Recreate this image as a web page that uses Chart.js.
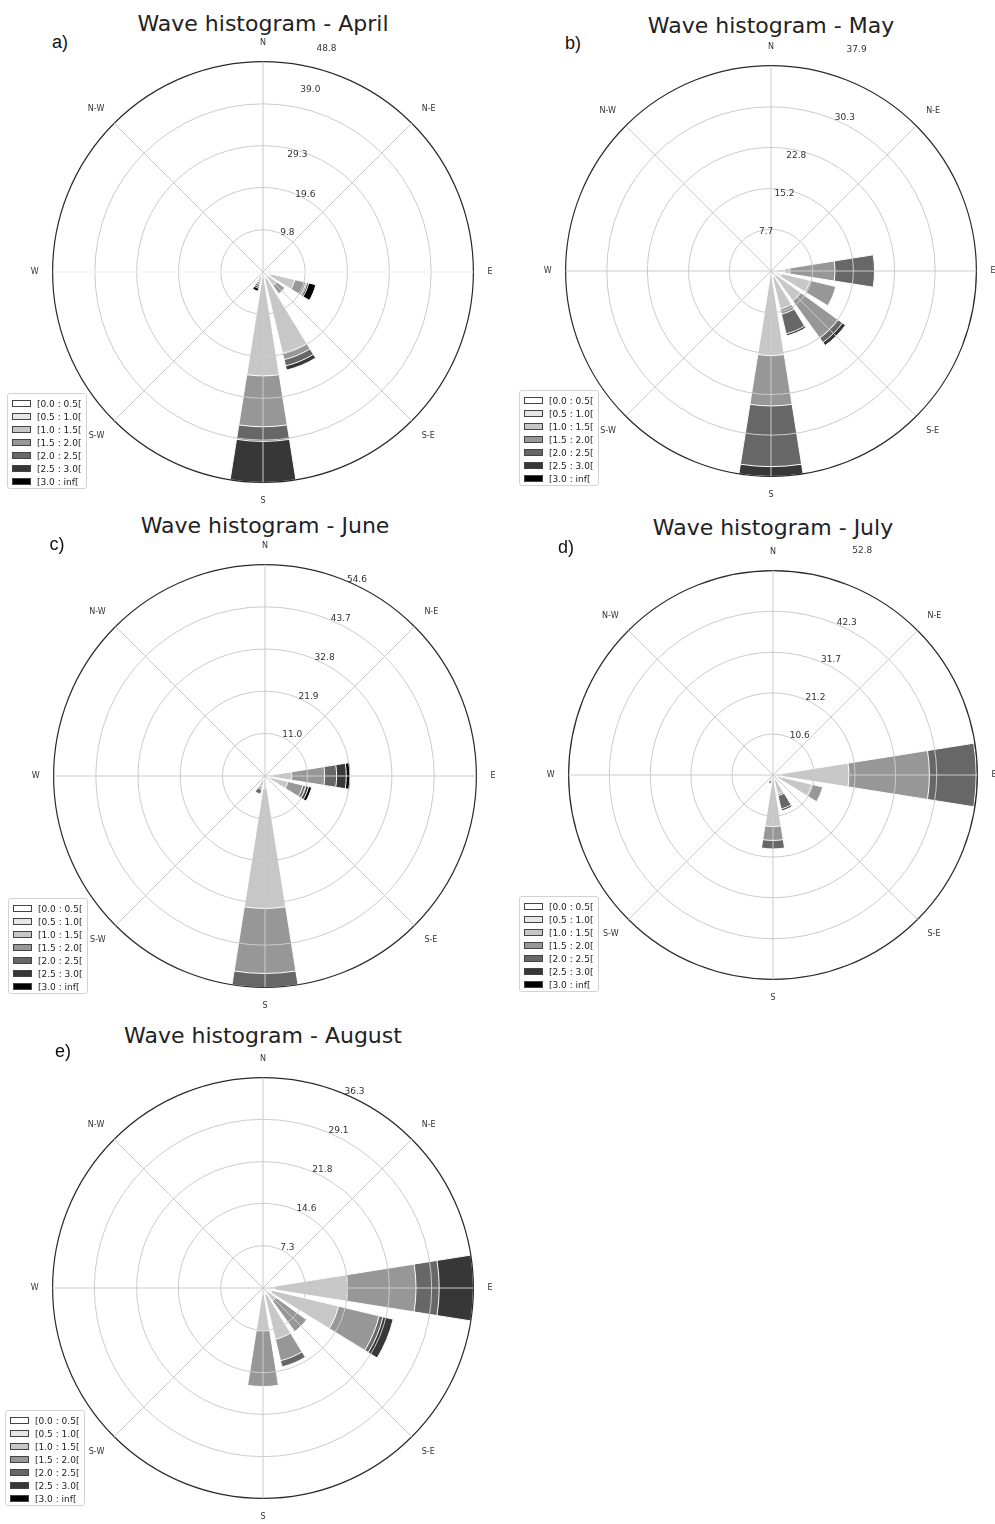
<!DOCTYPE html>
<html>
<head>
<meta charset="utf-8">
<script src="https://cdn.jsdelivr.net/npm/chart.js@4.4.1/dist/chart.umd.min.js"></script>
<style>
  html, body { margin: 0; padding: 0; background: #fff; }
  body { width: 995px; height: 1524px; overflow: hidden; position: relative; font-family: "DejaVu Sans", sans-serif; }
  .title { position: absolute; transform: translate(-50%, -50%); white-space: nowrap; font-size: 22px; color: #222; }
  .tag { position: absolute; transform: translate(-50%, -50%); font-family: "Liberation Sans", Arial, sans-serif; font-size: 18px; color: #111; }
  canvas { position: absolute; }
  .legend { position: absolute; box-sizing: border-box; width: 80px; height: 96px; border: 1px solid #d2d2d2; border-radius: 3px;
            background: rgba(255,255,255,0.92); padding: 3px 0 0 4px; }
  .legend .row { height: 13px; display: flex; align-items: center; font-size: 9px; color: #222; white-space: nowrap; }
  .legend .sw { width: 19px; height: 7px; box-sizing: border-box; border: 1px solid #444; margin-right: 6px; flex: none; }
</style>
</head>
<body>
<script>
// Compass labels drawn around each rose
const directions = ['N', 'N-E', 'E', 'S-E', 'S', 'S-W', 'W', 'N-W'];

// Significant wave height classes (m) and their fills
const hsBins = ['[0.0 : 0.5[', '[0.5 : 1.0[', '[1.0 : 1.5[', '[1.5 : 2.0[', '[2.0 : 2.5[', '[2.5 : 3.0[', '[3.0 : inf['];
const binColors = ['#ffffff', '#e6e6e6', '#c7c7c7', '#979797', '#676767', '#373737', '#000000'];

// Frequency (%) per class (rows) and per 22.5° sector (columns):
// N, NNE, NE, ENE, E, ESE, SE, SSE, S, SSW, SW, WSW, W, WNW, NW, NNW
const april = [
  [0, 0, 0, 0, 0.5, 0.7, 0.3, 0.5, 0.3, 0.3, 0, 0, 0, 0, 0, 0],
  [0, 0, 0, 0, 1.5, 1.2, 0.7, 1.0, 1.2, 0.7, 0, 0, 0, 0, 0, 0],
  [0, 0, 0, 0, 0, 5.7, 2.9, 17.9, 22.6, 1.5, 0, 0, 0, 0, 0, 0],
  [0, 0, 0, 0, 0, 2.6, 2.3, 1.5, 11.8, 0.5, 0, 0, 0, 0, 0, 0],
  [0, 0, 0, 0, 0, 0.3, 0, 1.5, 3.4, 0.5, 0, 0, 0, 0, 0, 0],
  [0, 0, 0, 0, 0, 0.4, 0, 1.0, 9.5, 0.4, 0, 0, 0, 0, 0, 0],
  [0, 0, 0, 0, 0, 1.7, 0, 0, 0, 0.7, 0, 0, 0, 0, 0, 0]
];
const may = [
  [0, 0, 0, 0, 1.0, 0.5, 0.4, 0.4, 0.3, 0, 0, 0, 0, 0, 0, 0],
  [0, 0, 0, 0, 1.5, 1.5, 0.8, 0.8, 0.8, 0, 0, 0, 0, 0, 0, 0],
  [0, 0, 0, 0, 1.0, 5.4, 5.6, 6.0, 14.5, 0, 0, 0, 0, 0, 0, 0],
  [0, 0, 0, 0, 8.3, 4.9, 8.5, 1.0, 9.3, 0, 0, 0, 0, 0, 0, 0],
  [0, 0, 0, 0, 7.3, 0, 1.0, 3.7, 11.2, 0, 0, 0, 0, 0, 0, 0],
  [0, 0, 0, 0, 0, 0, 0.7, 0.4, 1.8, 0, 0, 0, 0, 0, 0, 0],
  [0, 0, 0, 0, 0, 0, 0, 0, 0, 0, 0, 0, 0, 0, 0, 0]
];
const june = [
  [0, 0, 0, 0, 0.5, 0.4, 0, 0, 1.0, 0.3, 0, 0, 0, 0, 0, 0],
  [0, 0, 0, 0, 1.5, 1.0, 0, 0, 2.2, 0.7, 0, 0, 0, 0, 0, 0],
  [0, 0, 0, 0, 4.9, 4.7, 0, 0, 31.0, 2.0, 0, 0, 0, 0, 0, 0],
  [0, 0, 0, 0, 8.5, 4.0, 0, 0, 16.8, 0.6, 0, 0, 0, 0, 0, 0],
  [0, 0, 0, 0, 3.1, 0.7, 0, 0, 3.6, 1.2, 0, 0, 0, 0, 0, 0],
  [0, 0, 0, 0, 2.5, 0.8, 0, 0, 0, 0, 0, 0, 0, 0, 0, 0],
  [0, 0, 0, 0, 1.1, 0.8, 0, 0, 0, 0, 0, 0, 0, 0, 0, 0]
];
const july = [
  [0, 0, 0, 0, 0.8, 0.4, 0, 0.3, 0.3, 0.2, 0, 0, 0, 0, 0, 0],
  [0, 0, 0, 0, 1.5, 1.0, 0, 0.7, 0.7, 0.4, 0, 0, 0, 0, 0, 0],
  [0, 0, 0, 0, 17.3, 8.9, 0, 4.0, 12.3, 0.6, 0, 0, 0, 0, 0, 0],
  [0, 0, 0, 0, 20.8, 2.9, 0, 0.5, 3.6, 0.4, 0, 0, 0, 0, 0, 0],
  [0, 0, 0, 0, 12.1, 0, 0, 3.5, 2.2, 0.7, 0, 0, 0, 0, 0, 0],
  [0, 0, 0, 0, 0.3, 0, 0, 0.5, 0, 0, 0, 0, 0, 0, 0, 0],
  [0, 0, 0, 0, 0, 0, 0, 0, 0, 0, 0, 0, 0, 0, 0, 0]
];
const august = [
  [0, 0, 0, 0, 0.8, 0.6, 0.4, 0.4, 0.4, 0, 0, 0, 0, 0, 0, 0],
  [0, 0, 0, 0, 1.2, 1.0, 0.6, 0.8, 0.8, 0, 0, 0, 0, 0, 0, 0],
  [0, 0, 0, 0, 12.6, 11.8, 1.8, 7.9, 6.2, 0, 0, 0, 0, 0, 0, 0],
  [0, 0, 0, 0, 11.8, 7.2, 6.5, 3.8, 9.6, 0, 0, 0, 0, 0, 0, 0],
  [0, 0, 0, 0, 4.0, 0.7, 0, 1.1, 0, 0, 0, 0, 0, 0, 0, 0],
  [0, 0, 0, 0, 5.9, 1.8, 0, 0, 0, 0, 0, 0, 0, 0, 0, 0],
  [0, 0, 0, 0, 0, 0, 0, 0, 0, 0, 0, 0, 0, 0, 0, 0]
];

// Radial ring labels (%), the last one is the outer circle
const aprilTicks = ['9.8', '19.6', '29.3', '39.0', '48.8'];
const mayTicks = ['7.7', '15.2', '22.8', '30.3', '37.9'];
const juneTicks = ['11.0', '21.9', '32.8', '43.7', '54.6'];
const julyTicks = ['10.6', '21.2', '31.7', '42.3', '52.8'];
const augustTicks = ['7.3', '14.6', '21.8', '29.1', '36.3'];

// Page placement of each rose: centre, scale half-height, title, panel letter, legend box,
// plus nudges (px) for ring labels that sit away from the 22.5° line
const panels = [
  { tag: 'a)', title: 'Wave histogram - April',  rows: april,  ticks: aprilTicks,  cx: 263, cy: 273,  half: 234,
    titleX: 263, titleY: 23, tagX: 60, tagY: 42, legX: 7, legY: 393, faintEW: true,
    nudge: [[0, 1], [-1, 2], [-25, 1], [-28, -25], [-28, -27]] },
  { tag: 'b)', title: 'Wave histogram - May',    rows: may,    ticks: mayTicks,    cx: 771, cy: 272,  half: 229,
    titleX: 771, titleY: 25, tagX: 573, tagY: 43, legX: 519, legY: 390,
    nudge: [[-29, 1], [-29, 0], [-33, 0], [0, 0], [-4, -30]] },
  { tag: 'c)', title: 'Wave histogram - June',   rows: june,   ticks: juneTicks,   cx: 265, cy: 777,  half: 235,
    titleX: 265, titleY: 525, tagX: 57, tagY: 544, legX: 8, legY: 898 },
  { tag: 'd)', title: 'Wave histogram - July',   rows: july,   ticks: julyTicks,   cx: 773, cy: 776,  half: 228,
    titleX: 773, titleY: 527, tagX: 566, tagY: 547, legX: 519, legY: 896,
    nudge: [[0, 0], [0, 0], [0, 0], [0, 0], [0, -34]] },
  { tag: 'e)', title: 'Wave histogram - August', rows: august, ticks: augustTicks, cx: 263, cy: 1289, half: 234,
    titleX: 263, titleY: 1035, tagX: 63, tagY: 1051, legX: 5, legY: 1410 }
];

// Extra room above each rose so outer ring labels are not clipped
const TOP_ROOM = 16;

// Each sector is 22.5° wide; a bar fills 80% of it and the rest is left empty.
// The north bar straddles the start angle, so it is split into two halves.
const SECTOR = 22.5;
const BAR = SECTOR * 0.8;
const GAP = SECTOR - BAR;
const slotAngles = [BAR / 2, GAP];
for (let d = 1; d < 16; d++) slotAngles.push(BAR, GAP);
slotAngles.push(BAR / 2);

function toSlots(perSector) {
  const out = [perSector[0], 0];
  for (let d = 1; d < 16; d++) out.push(perSector[d], 0);
  out.push(perSector[0]);
  return out;
}

// Stacked bars: each class is drawn as an arc reaching the running total,
// smaller totals on top so every class shows as its own band.
function buildDatasets(rows) {
  const running = new Array(16).fill(0);
  return rows.map((row, i) => {
    row.forEach((v, d) => { running[d] += v; });
    return {
      label: hsBins[i],
      data: toSlots(running.map(v => Math.round(v * 100) / 100)),
      backgroundColor: binColors[i],
      borderColor: '#ffffff',
      borderWidth: (ctx) => (ctx.raw > 0 ? 1 : 0),
      angle: (ctx) => slotAngles[ctx.dataIndex]
    };
  });
}

const ringLabelPlugin = {
  id: 'ringLabels',
  afterDraw(chart, args, opts) {
    const scale = chart.scales.r;
    const ctx = chart.ctx;
    ctx.save();
    ctx.font = '9px "DejaVu Sans"';
    ctx.fillStyle = '#333';
    ctx.textAlign = 'left';
    ctx.textBaseline = 'bottom';
    opts.labels.forEach((lbl, i) => {
      const p = scale.getPointPosition(0, scale.getDistanceFromCenterForValue(parseFloat(lbl)), Math.PI / 8);
      const n = (opts.nudge && opts.nudge[i]) || [0, 0];
      ctx.fillText(lbl, p.x + 1 + n[0], p.y + 3 + n[1]);
    });
    ctx.restore();
  }
};

Chart.defaults.font.family = '"DejaVu Sans", sans-serif';

function addDiv(cls, text, x, y) {
  const el = document.createElement('div');
  el.className = cls;
  el.textContent = text;
  el.style.left = x + 'px';
  el.style.top = y + 'px';
  document.body.appendChild(el);
  return el;
}

panels.forEach((p) => {
  addDiv('title', p.title, p.titleX, p.titleY);
  addDiv('tag', p.tag, p.tagX, p.tagY);

  const canvas = document.createElement('canvas');
  const w = 526, h = p.half * 2 + TOP_ROOM;
  canvas.width = w;
  canvas.height = h;
  canvas.style.left = (p.cx - w / 2) + 'px';
  canvas.style.top = (p.cy - p.half - TOP_ROOM) + 'px';
  canvas.style.width = w + 'px';
  canvas.style.height = h + 'px';
  document.body.appendChild(canvas);

  const ringValues = p.ticks.map(Number);
  const rMax = ringValues[ringValues.length - 1];

  new Chart(canvas, {
    type: 'polarArea',
    data: { labels: directions, datasets: buildDatasets(p.rows) },
    options: {
      responsive: false,
      animation: false,
      layout: { padding: { top: TOP_ROOM, left: 0, right: 0, bottom: 0 } },
      plugins: {
        legend: { display: false },
        tooltip: { enabled: false },
        ringLabels: { labels: p.ticks, nudge: p.nudge }
      },
      scales: {
        r: {
          min: 0,
          max: rMax,
          startAngle: 0,
          afterBuildTicks: (scale) => { scale.ticks = [0, ...ringValues].map(v => ({ value: v })); },
          ticks: { display: false },
          grid: {
            circular: true,
            z: 1,
            color: (c) => (c.index === ringValues.length ? '#2a2a2a' : '#cbcbcb'),
            lineWidth: (c) => (c.index === ringValues.length ? 1.2 : 1)
          },
          angleLines: {
            display: true,
            lineWidth: 1,
            color: (c) => (p.faintEW && (c.index === 2 || c.index === 6) ? '#efefef' : '#cbcbcb')
          },
          pointLabels: { display: true, padding: 14, color: '#333', font: { size: 8 } }
        }
      }
    },
    plugins: [ringLabelPlugin]
  });

  const leg = document.createElement('div');
  leg.className = 'legend';
  leg.style.left = p.legX + 'px';
  leg.style.top = p.legY + 'px';
  hsBins.forEach((lbl, i) => {
    const row = document.createElement('div');
    row.className = 'row';
    const sw = document.createElement('span');
    sw.className = 'sw';
    sw.style.background = binColors[i];
    const tx = document.createElement('span');
    tx.textContent = lbl;
    row.appendChild(sw);
    row.appendChild(tx);
    leg.appendChild(row);
  });
  document.body.appendChild(leg);
});
</script>
</body>
</html>
